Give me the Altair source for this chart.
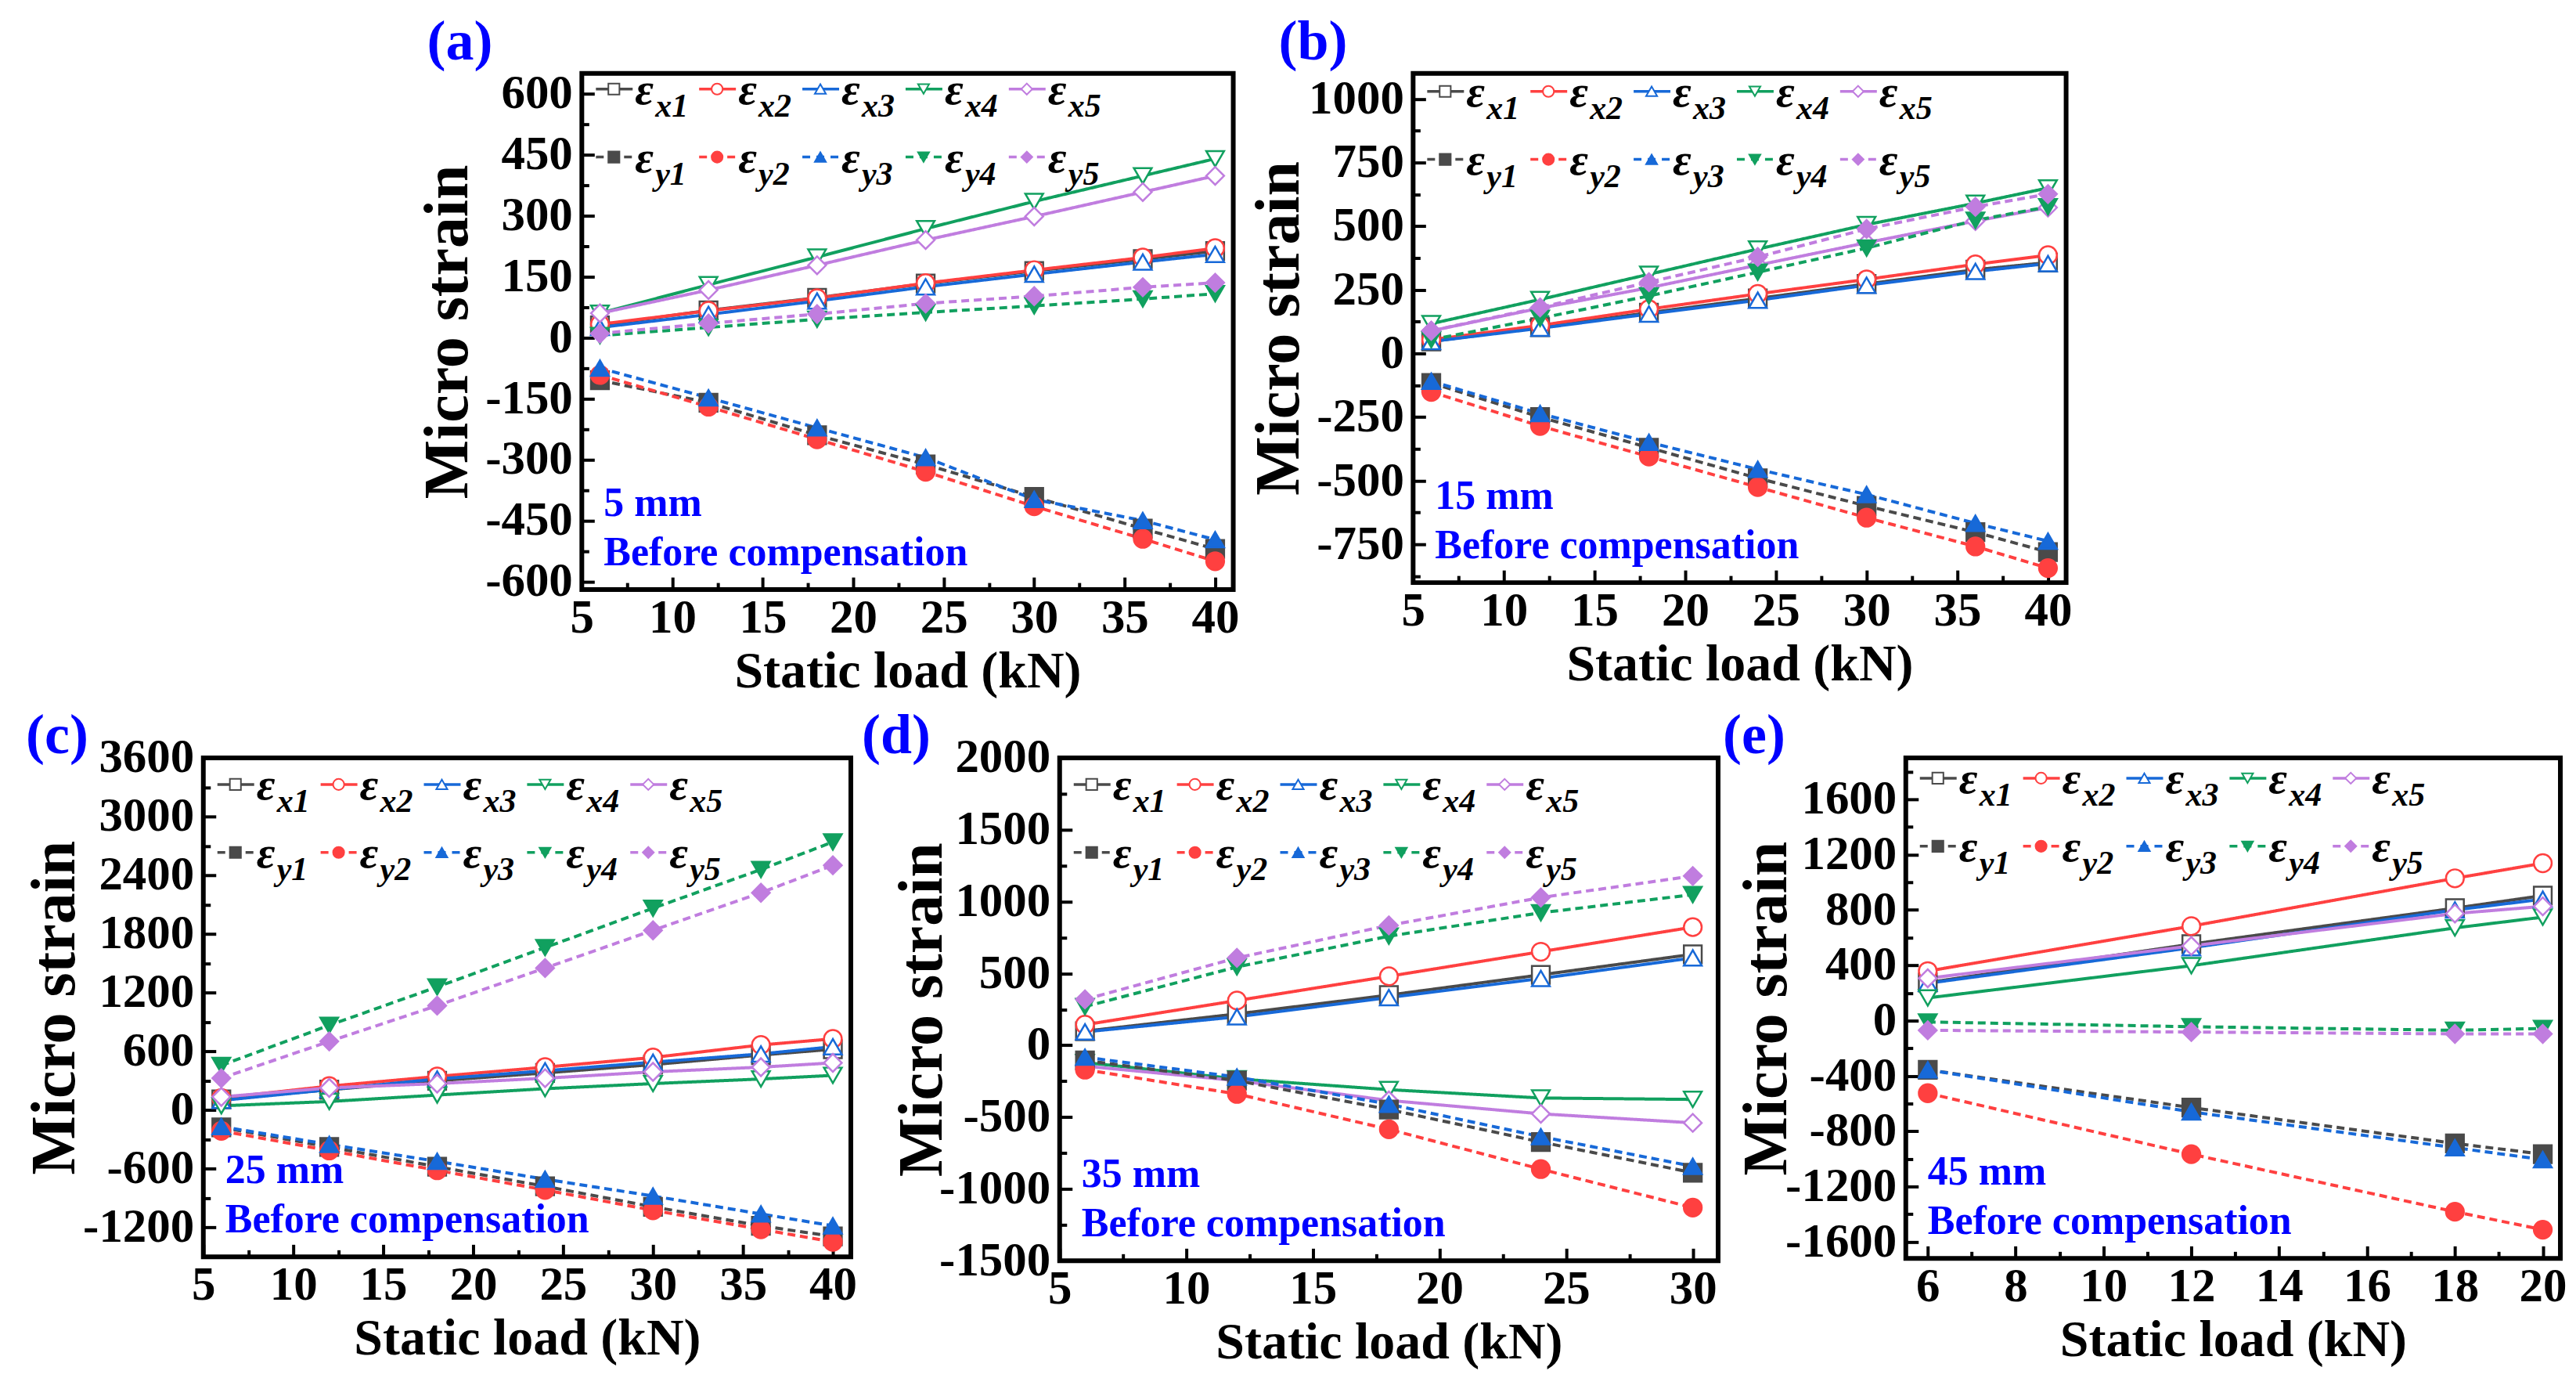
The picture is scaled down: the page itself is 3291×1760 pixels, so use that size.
import altair as alt
import pandas as pd

FONT = "Liberation Serif"
BLUE_TXT = "#0000ff"

SERIES = ["x1", "x2", "x3", "x4", "x5", "y1", "y2", "y3", "y4", "y5"]
COLORS = ["#4a4a4a", "#ff4040", "#1769d8", "#11a05f", "#c07ddf"] * 2
SHAPES = ["square", "circle", "triangle-up", "triangle-down", "diamond"] * 2
FILLS = ["white"] * 5 + COLORS[5:]

# (a) 5 mm
a_load = [6, 12, 18, 24, 30, 36, 40]
a_x1 = [30, 67, 98, 133, 164, 193, 213]
a_x2 = [33, 66, 97, 134, 166, 197, 220]
a_x3 = [25, 57, 90, 125, 156, 186, 205]
a_x4 = [60, 130, 198, 268, 335, 398, 440]
a_x5 = [60, 117, 178, 240, 298, 358, 398]
a_y1 = [-105, -160, -240, -312, -392, -470, -520]
a_y2 = [-92, -170, -250, -330, -415, -495, -550]
a_y3 = [-75, -148, -222, -295, -398, -450, -497]
a_y4 = [5, 25, 45, 62, 78, 95, 108]
a_y5 = [10, 35, 58, 84, 102, 124, 135]

# (b) 15 mm
b_load = [6, 12, 18, 24, 30, 36, 40]
b_x1 = [47, 103, 160, 216, 273, 329, 357]
b_x2 = [54, 110, 174, 234, 291, 350, 386]
b_x3 = [47, 99, 155, 209, 268, 322, 353]
b_x4 = [117, 212, 311, 410, 506, 590, 650]
b_x5 = [89, 178, 258, 347, 435, 520, 573]
b_y1 = [-116, -250, -370, -490, -599, -702, -780]
b_y2 = [-151, -285, -405, -525, -645, -758, -843]
b_y3 = [-109, -236, -349, -455, -554, -667, -737]
b_y4 = [54, 138, 226, 319, 414, 523, 576]
b_y5 = [89, 181, 280, 379, 489, 576, 626]

# (c) 25 mm
c_load = [6, 12, 18, 24, 30, 36, 40]
c_x1 = [110, 209, 300, 380, 465, 563, 622]
c_x2 = [124, 245, 344, 439, 538, 666, 728]
c_x3 = [99, 209, 318, 402, 490, 574, 648]
c_x4 = [44, 88, 154, 219, 271, 318, 355]
c_x5 = [135, 227, 271, 326, 391, 439, 483]
c_y1 = [-176, -377, -578, -779, -988, -1182, -1291]
c_y2 = [-212, -413, -615, -816, -1024, -1218, -1346]
c_y3 = [-168, -351, -523, -706, -878, -1061, -1182]
c_y4 = [457, 867, 1259, 1661, 2063, 2459, 2740]
c_y5 = [326, 702, 1068, 1452, 1837, 2221, 2502]

# (d) 35 mm
d_load = [6, 12, 18, 24, 30]
d_x1 = [98, 218, 349, 490, 633]
d_x2 = [143, 311, 480, 651, 822]
d_x3 = [93, 198, 332, 465, 608]
d_x4 = [-120, -234, -309, -367, -377]
d_x5 = [-145, -246, -384, -477, -540]
d_y1 = [-105, -246, -447, -673, -887]
d_y2 = [-170, -339, -585, -862, -1130]
d_y3 = [-83, -221, -410, -636, -842]
d_y4 = [269, 545, 759, 922, 1048]
d_y5 = [319, 608, 834, 1028, 1178]

# (e) 45 mm
e_load = [6, 12, 18, 20]
e_x1 = [275, 553, 813, 904]
e_x2 = [358, 683, 1029, 1138]
e_x3 = [270, 527, 800, 878]
e_x4 = [164, 397, 670, 748]
e_x5 = [306, 540, 774, 826]
e_y1 = [-356, -629, -888, -966]
e_y2 = [-525, -966, -1382, -1512]
e_y3 = [-356, -660, -919, -1005]
e_y4 = [-10, -44, -70, -57]
e_y5 = [-70, -83, -96, -96]


def axis_main(orient, values, title, extent=None):
    kw = dict(orient=orient, values=values, title=title, ticks=False, domain=False,
              grid=False, labelFont=FONT, titleFont=FONT, labelFontSize=61,
              labelFontWeight="bold", titleFontWeight="bold",
              labelColor="black", titleColor="black", labelFlush=False,
              labelOverlap=False, labelExpr="'' + datum.value")
    if orient == "left":
        kw.update(labelPadding=12, titlePadding=4, titleFontSize=80,
                  minExtent=extent, maxExtent=extent)
    else:
        kw.update(labelPadding=6, titlePadding=6, titleFontSize=66)
    return alt.Axis(**kw)


def axis_ticks(orient, values, size):
    # ticks pointing into the plot: the axis is pulled inside by its own tick length
    return alt.Axis(orient=orient, values=values, title=None, labels=False, domain=False,
                    grid=False, ticks=True, tickSize=size, tickWidth=4,
                    tickColor="black", offset=-size)


def panel(letter, depth, loads, values, xdom, xticks, xminor, ydom, yticks, yminor,
          w, h, yext, letter_dx, letter_dy, leg_top):
    rows = []
    for name, vals in zip(SERIES, values):
        for load, v in zip(loads, vals):
            rows.append({"s": name, "kind": name[0], "load": load, "v": v})
    df = pd.DataFrame(rows)

    xs = alt.Scale(domain=xdom, nice=False, zero=False)
    ys = alt.Scale(domain=ydom, nice=False, zero=False)

    lines = alt.Chart(df).mark_line(strokeWidth=4).encode(
        x=alt.X("load:Q", scale=xs, axis=axis_main("bottom", xticks, "Static load (kN)")),
        y=alt.Y("v:Q", scale=ys, axis=axis_main("left", yticks, "Micro strain", yext)),
        color=alt.Color("s:N", scale=alt.Scale(domain=SERIES, range=COLORS), legend=None),
        strokeDash=alt.StrokeDash("kind:N", scale=alt.Scale(domain=["x", "y"], range=[[1, 0], [10, 6]]),
                                  legend=None),
        detail="s:N",
    )
    points = alt.Chart(df).mark_point(size=520, strokeWidth=2.5, opacity=1, fillOpacity=1).encode(
        x=alt.X("load:Q", scale=xs, axis=axis_ticks("bottom", xticks, 16)),
        y=alt.Y("v:Q", scale=ys, axis=axis_ticks("left", yticks, 16)),
        stroke=alt.Stroke("s:N", scale=alt.Scale(domain=SERIES, range=COLORS), legend=None),
        fill=alt.Fill("s:N", scale=alt.Scale(domain=SERIES, range=FILLS), legend=None),
        shape=alt.Shape("s:N", scale=alt.Scale(domain=SERIES, range=SHAPES), legend=None),
    )
    minor = alt.Chart(df).mark_point(opacity=0).encode(
        x=alt.X("load:Q", scale=xs, axis=axis_ticks("bottom", xminor, 9)),
        y=alt.Y("v:Q", scale=ys, axis=axis_ticks("left", yminor, 9)),
    )
    data = alt.layer(lines, points, minor).resolve_axis(x="independent", y="independent")

    # legend, labels and panel letter drawn in pixel space of the plot
    leg = []
    for i, s in enumerate(SERIES):
        c, r = i % 5, i // 5
        x0 = 18 + 132 * c
        y0 = leg_top + 87 * r
        leg.append({"kind": s[0], "sub": s, "x0": x0, "x1": x0 + 47, "mx": x0 + 23, "my": y0,
                    "ex": x0 + 50, "ey": y0 + 19, "sx": x0 + 76, "sy": y0 + 35,
                    "col": COLORS[i], "fill": FILLS[i], "shape": SHAPES[i]})
    leg = pd.DataFrame(leg)
    px = alt.Scale(domain=[0, w], nice=False, zero=False)
    py = alt.Scale(domain=[0, h], nice=False, zero=False, reverse=True)

    def X(f):
        return alt.X(f + ":Q", scale=px, axis=None)

    def Y(f):
        return alt.Y(f + ":Q", scale=py, axis=None)

    base = alt.Chart(leg)
    solid = base.transform_filter("datum.kind == 'x'").mark_rule(strokeWidth=3.5).encode(
        x=X("x0"), x2="x1:Q", y=Y("my"), color=alt.Color("col:N", scale=None))
    dashed = base.transform_filter("datum.kind == 'y'").mark_rule(strokeWidth=3.5, strokeDash=[10, 8]).encode(
        x=X("x0"), x2="x1:Q", y=Y("my"), color=alt.Color("col:N", scale=None))
    marks = base.mark_point(size=200, strokeWidth=2, opacity=1, fillOpacity=1).encode(
        x=X("mx"), y=Y("my"), stroke=alt.Stroke("col:N", scale=None),
        fill=alt.Fill("fill:N", scale=None), shape=alt.Shape("shape:N", scale=None))
    eps = base.mark_text(text="ε", font=FONT, fontSize=58, fontStyle="italic", fontWeight="bold",
                         align="left", baseline="alphabetic", color="black").encode(x=X("ex"), y=Y("ey"))
    subs = base.mark_text(font=FONT, fontSize=42, fontStyle="italic", fontWeight="bold",
                          align="left", baseline="alphabetic", color="black").encode(
        x=X("sx"), y=Y("sy"), text="sub:N")

    notes = pd.DataFrame({"t": [depth, "Before compensation"], "x": [28, 28], "y": [h - 110, h - 47]})
    note = alt.Chart(notes).mark_text(font=FONT, fontSize=52, fontWeight="bold", color=BLUE_TXT,
                                      align="left", baseline="middle").encode(x=X("x"), y=Y("y"), text="t:N")
    tag = alt.Chart(pd.DataFrame({"t": [letter], "x": [letter_dx], "y": [letter_dy]})).mark_text(
        font=FONT, fontSize=72, fontWeight="bold", color=BLUE_TXT, align="center",
        baseline="middle").encode(x=X("x"), y=Y("y"), text="t:N")
    over = alt.layer(solid, dashed, marks, eps, subs, note, tag)

    return alt.layer(data, over).resolve_scale(x="independent", y="independent").properties(
        width=w, height=h)


def mids(ticks, lo, hi):
    step = ticks[1] - ticks[0]
    out = [t + step / 2 for t in [ticks[0] - step] + ticks]
    return [m for m in out if lo <= m <= hi]


x40 = list(range(5, 45, 5))
x30 = list(range(5, 35, 5))
x20 = list(range(6, 22, 2))

ya = list(range(-600, 601, 150))
yb = list(range(-750, 1001, 250))
yc = list(range(-1200, 3601, 600))
yd = list(range(-1500, 2001, 500))
ye = list(range(-1600, 1601, 400))

pa = panel("(a)", "5 mm", a_load, [a_x1, a_x2, a_x3, a_x4, a_x5, a_y1, a_y2, a_y3, a_y4, a_y5],
           [5, 41], x40, mids(x40, 5, 41), [-620, 650], ya, mids(ya, -620, 650),
           833, 660, 126, -156, -40, 20)
pb = panel("(b)", "15 mm", b_load, [b_x1, b_x2, b_x3, b_x4, b_x5, b_y1, b_y2, b_y3, b_y4, b_y5],
           [5, 41], x40, mids(x40, 5, 41), [-900, 1100], yb, mids(yb, -900, 1100),
           835, 651, 126, -128, -40, 23)
pc = panel("(c)", "25 mm", c_load, [c_x1, c_x2, c_x3, c_x4, c_x5, c_y1, c_y2, c_y3, c_y4, c_y5],
           [5, 41], x40, mids(x40, 5, 41), [-1500, 3600], yc, mids(yc, -1500, 3600),
           828, 638, 144, -187, -28, 34)
pd_ = panel("(d)", "35 mm", d_load, [d_x1, d_x2, d_x3, d_x4, d_x5, d_y1, d_y2, d_y3, d_y4, d_y5],
            [5, 31], x30, mids(x30, 5, 31), [-1500, 2000], yd, mids(yd, -1500, 2000),
            842, 643, 130, -209, -28, 34)
pe = panel("(e)", "45 mm", e_load, [e_x1, e_x2, e_x3, e_x4, e_x5, e_y1, e_y2, e_y3, e_y4, e_y5],
           [5.5, 20.4], x20, mids(x20, 5.5, 20.4), [-1720, 1900], ye, mids(ye, -1720, 1900),
           837, 640, 132, -194, -28, 26)

# empty block that pushes the upper row to the right
spacer = alt.Chart(pd.DataFrame({"v": [0]})).mark_point(opacity=0).encode(
    x=alt.value(0), y=alt.value(0)
).properties(width=265, height=10, view=alt.ViewBackground(stroke="transparent", strokeWidth=0))

top = alt.hconcat(spacer, pa, pb, spacing=5)
bottom = alt.hconcat(pc, pd_, pe, spacing=0)

chart = alt.vconcat(top, bottom, spacing=8).properties(
    padding={"left": 20, "top": 6, "right": 0, "bottom": 0},
    background="white",
).configure_view(stroke="black", strokeWidth=6)

chart.save("out.html", embed_options={"renderer": "svg", "actions": False})
